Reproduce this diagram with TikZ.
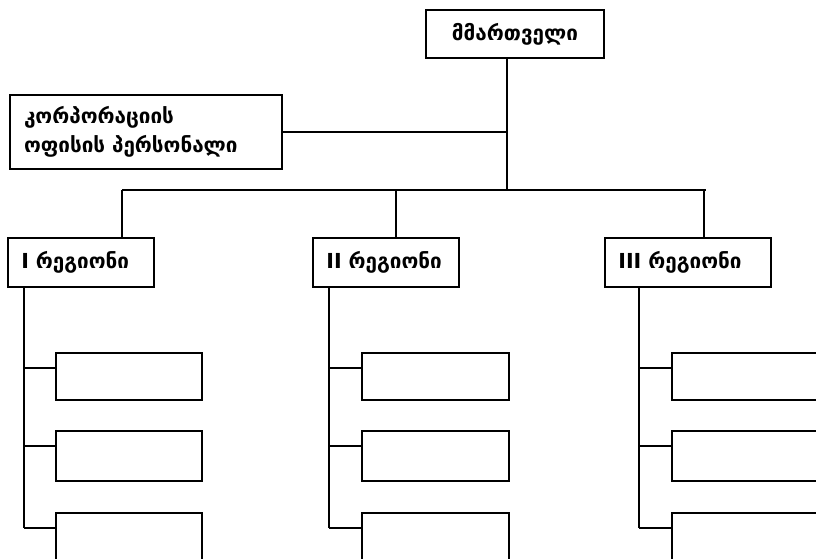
\documentclass[tikz,border=0pt]{standalone}
\usepackage{fontspec}
\setmainfont{DejaVu Sans}
\begin{document}
\begin{tikzpicture}[x=0.75pt,y=-0.75pt,line width=1.7pt,
		box/.style={draw,rectangle,inner sep=0pt,font=\fontsize{15.5}{22}\selectfont\bfseries},
		unit/.style={box,text width=#1,inner xsep=10pt,minimum height=36.75pt,align=left},
		sub/.style={draw,rectangle,anchor=north west,inner sep=0pt}]
	\useasboundingbox (0,0) rectangle (816,558);
	\clip (0,0) rectangle (816,558);
	% head of the company
	\node[box,minimum width=133.5pt,minimum height=36pt] (boss) at (515,34) {მმართველი};
	\node[box,text width=183pt,inner xsep=10.5pt,minimum height=55.5pt,align=left] (office) at (146,132)
		{კორპორაციის\\ოფისის პერსონალი};
	\coordinate (top) at (507,190);
	\draw (boss.south -| top) -- (top);
	\draw (office.east) -- (office.east -| top);
	\coordinate (busl) at (122,190);
	\coordinate (busr) at (706,190);
	\draw (busl) -- (busr);
	% regions
	\foreach \r/\cx/\tw/\tx/\sx/\lx/\lw/\lab in {1/81/89.5pt/122/24/55/109.5pt/I,
			2/386/89.5pt/396/329/361/110.25pt/II,
			3/688/104.5pt/704/639/671/150pt/III}{
		\node[unit=\tw] (reg\r) at (\cx,262.5) {\lab{} რეგიონი};
		\coordinate (tap\r) at (\tx,190);
		\draw (tap\r) -- (tap\r |- reg\r.north);
		\coordinate (stem\r) at (\sx,528);
		\draw (stem\r |- reg\r.south) -- (stem\r);
		\foreach \k/\yt/\h in {1/352/35.25pt,2/430/37.5pt,3/512/50pt}{
			\node[sub,minimum width=\lw,minimum height=\h] (sub\r\k) at (\lx,\yt) {};
			\coordinate (br\r\k) at (\sx,\yt+16);
			\draw (br\r\k) -- (br\r\k -| sub\r\k.west);
		}
	}
\end{tikzpicture}
\end{document}
